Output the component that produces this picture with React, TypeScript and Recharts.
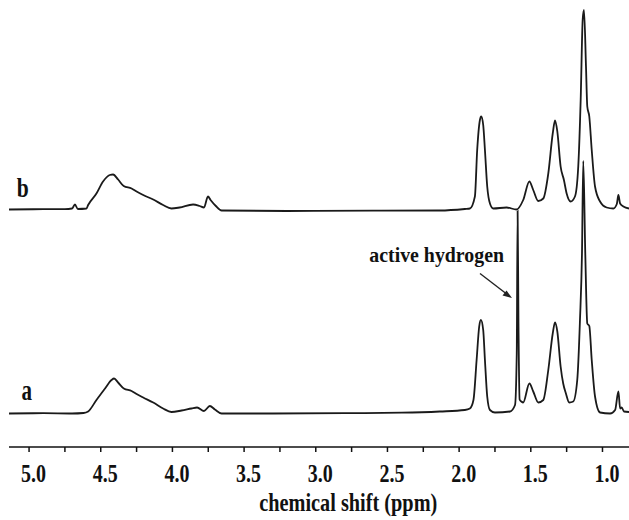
import { LineChart, Line, XAxis, YAxis } from 'recharts';

// chemical shift (ppm) ticks, 0.25 apart, labels only on the 0.5 steps
const shiftTicks = [5.0, 4.75, 4.5, 4.25, 4.0, 3.75, 3.5, 3.25, 3.0, 2.75, 2.5, 2.25, 2.0, 1.75, 1.5, 1.25, 1.0];
const labelledTicks = [5.0, 4.5, 4.0, 3.5, 3.0, 2.5, 2.0, 1.5, 1.0];

// spectrum a: [ppm, intensity above its baseline]
const spectrumA: [number, number][] = [
  [5.14, 0], [4.9, 0.3], [4.7, 0], [4.62, 0.5], [4.588, 2], [4.53, 13.5], [4.47, 25], [4.425, 33.5],
  [4.407, 35], [4.379, 31], [4.339, 25], [4.285, 22.5], [4.25, 19.5], [4.204, 16], [4.134, 11],
  [4.065, 5], [4.007, 1.5], [3.936, 3], [3.867, 5], [3.828, 6], [3.78, 2.5], [3.739, 7.5],
  [3.704, 4], [3.657, 0], [3.3, 0], [2.8, 0.3], [2.4, 0.8], [2.134, 2], [1.96, 3.5], [1.925, 5],
  [1.9, 13.5], [1.878, 53.5], [1.86, 87], [1.848, 93.5], [1.832, 83.5], [1.82, 53.5], [1.804, 17],
  [1.785, 3.5], [1.75, 1], [1.645, 2], [1.61, 8.5], [1.598, 60], [1.592, 202.5], [1.586, 90],
  [1.578, 14], [1.566, 12], [1.553, 11], [1.51, 30], [1.483, 22], [1.448, 11], [1.413, 13.5],
  [1.378, 43.5], [1.347, 80], [1.331, 91], [1.315, 82], [1.292, 47], [1.274, 30], [1.255, 20],
  [1.232, 11], [1.204, 12], [1.176, 33.5], [1.157, 93.5], [1.143, 160], [1.134, 252.5], [1.12, 160],
  [1.106, 90], [1.092, 87.5], [1.075, 53.5], [1.052, 17], [1.017, 1], [0.947, 0], [0.912, 3.5],
  [0.889, 22], [0.877, 5], [0.866, 6], [0.85, 2], [0.815, 1.5],
];

// spectrum b: [ppm, intensity above its baseline]
const spectrumB: [number, number][] = [
  [5.14, 0], [4.9, 0.3], [4.75, 0.3], [4.7, 1], [4.68, 5], [4.66, 0.5], [4.6, 1], [4.588, 4.5],
  [4.53, 16], [4.484, 28], [4.437, 34.5], [4.414, 35], [4.379, 30], [4.34, 23.5], [4.285, 21],
  [4.25, 18], [4.204, 14.5], [4.134, 10], [4.065, 4.5], [4.007, 1], [3.95, 2], [3.856, 5],
  [3.81, 3.5], [3.78, 2], [3.752, 13], [3.734, 9.5], [3.697, 3.5], [3.657, -1], [3.2, -1.5],
  [2.6, -1.2], [2.134, -1], [1.96, 0.5], [1.925, 1], [1.89, 13], [1.874, 59.5], [1.855, 89.5],
  [1.846, 93], [1.832, 84.5], [1.82, 59.5], [1.804, 23], [1.785, 6], [1.762, 1], [1.669, 2],
  [1.6, 0], [1.553, 9.5], [1.51, 28], [1.483, 19.5], [1.448, 8.5], [1.413, 11], [1.378, 36],
  [1.347, 76], [1.331, 89], [1.315, 78], [1.292, 43], [1.269, 29.5], [1.25, 16], [1.222, 8],
  [1.192, 13], [1.169, 43], [1.152, 110], [1.138, 190], [1.129, 199.5], [1.115, 143], [1.106, 103],
  [1.092, 93], [1.075, 59.5], [1.052, 23], [1.017, 8], [0.971, 2], [0.924, 1], [0.9, 5.5],
  [0.889, 14.5], [0.877, 6], [0.854, 3], [0.815, 1],
];

// vertical offsets of the two stacked traces
const OFFSET_A = 33.5;
const OFFSET_B = 237.5;

const dataA = spectrumA.map(([ppm, h]) => ({ ppm, h }));
const dataB = spectrumB.map(([ppm, h]) => ({ ppm, h }));

const serif = '"Liberation Serif", "Times New Roman", serif';

function ShiftTick(props: any) {
  const { x, y, payload } = props;
  if (!labelledTicks.includes(payload.value)) return null;
  return (
    <text
      x={x + 4.5}
      y={y + 29.5}
      textAnchor="middle"
      fontFamily={serif}
      fontWeight="bold"
      fontSize={25}
      fill="#111"
      textLength={25}
      lengthAdjust="spacingAndGlyphs"
    >
      {payload.value.toFixed(1)}
    </text>
  );
}

export default function App() {
  return (
    <div style={{ position: 'absolute', left: 0, top: 0, width: 629, height: 520, background: '#fff' }}>
      <LineChart width={629} height={520} margin={{ top: 0, right: 0, left: 9, bottom: 0 }}>
        <XAxis
          type="number"
          dataKey="ppm"
          domain={[0.815, 5.14]}
          reversed
          allowDataOverflow
          ticks={shiftTicks}
          interval={0}
          height={73}
          tickSize={5}
          tickMargin={0}
          axisLine={{ stroke: '#111', strokeWidth: 1.5 }}
          tickLine={{ stroke: '#111', strokeWidth: 1.5 }}
          tick={<ShiftTick />}
        />
        <YAxis hide type="number" domain={[0, 447]} allowDataOverflow />
        <Line
          data={dataB}
          dataKey={(d: any) => d.h + OFFSET_B}
          type="monotone"
          stroke="#1a1a1a"
          strokeWidth={1.8}
          dot={false}
          isAnimationActive={false}
        />
        <Line
          data={dataA}
          dataKey={(d: any) => d.h + OFFSET_A}
          type="monotone"
          stroke="#1a1a1a"
          strokeWidth={1.8}
          dot={false}
          isAnimationActive={false}
        />
      </LineChart>
      <svg width={629} height={520} style={{ position: 'absolute', left: 0, top: 0, pointerEvents: 'none' }}>
        <text x={16.7} y={196.7} fontFamily={serif} fontWeight="bold" fontSize={27} fill="#111" textLength={12} lengthAdjust="spacingAndGlyphs">b</text>
        <text x={21.5} y={400} fontFamily={serif} fontWeight="bold" fontSize={30} fill="#111" textLength={10.5} lengthAdjust="spacingAndGlyphs">a</text>
        <text x={369.3} y={262.3} fontFamily={serif} fontWeight="bold" fontSize={21} fill="#111" textLength={134.7} lengthAdjust="spacingAndGlyphs">active hydrogen</text>
        <line x1={480} y1={273.5} x2={507} y2={294.2} stroke="#222" strokeWidth={1.4} />
        <polygon points="512,298 502.5,295.5 506.5,290.5" fill="#222" />
        <text x={259.3} y={510.7} fontFamily={serif} fontWeight="bold" fontSize={26} fill="#111" textLength={178} lengthAdjust="spacingAndGlyphs">chemical shift (ppm)</text>
      </svg>
    </div>
  );
}
